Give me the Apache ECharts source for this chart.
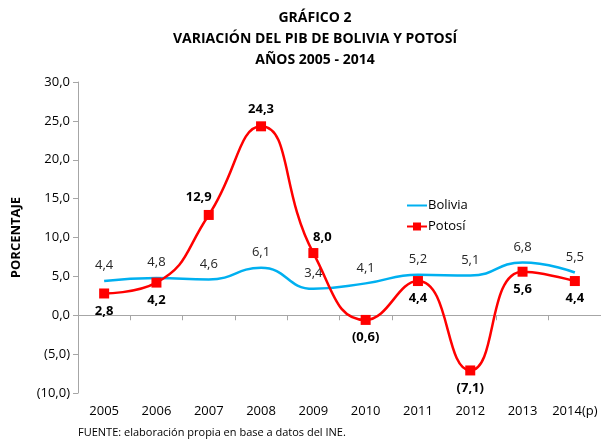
<!DOCTYPE html>
<html>
<head>
<meta charset="utf-8">
<script src="https://cdn.jsdelivr.net/npm/echarts@6/dist/echarts.min.js"></script>
<style>
body { margin: 0; background: #fff; }
#chart { width: 601px; height: 441px; }
</style>
</head>
<body>
<div id="chart"></div>
<script>
var years = ['2005', '2006', '2007', '2008', '2009', '2010', '2011', '2012', '2013', '2014(p)'];
var bolivia = [4.4, 4.8, 4.6, 6.1, 3.4, 4.1, 5.2, 5.1, 6.8, 5.5];
var potosi = [2.8, 4.2, 12.9, 24.3, 8.0, -0.6, 4.4, -7.1, 5.6, 4.4];
var yTicks = { min: -10, max: 30, step: 5 };

// where each Potosí label sits
var potosiLabelPos = ['bottom', 'bottom', 'topLeft', 'top', 'topRight', 'bottom', 'bottom', 'bottom', 'bottom', 'bottom'];

var fontFam = '"Open Sans", "DejaVu Sans", sans-serif';

function fmt(v) {
    var s = Math.abs(v).toFixed(1).replace('.', ',');
    return v < 0 ? '(' + s + ')' : s;
}

var potosiData = potosi.map(function (v, i) {
    var p = potosiLabelPos[i];
    var lab = { position: p === 'bottom' ? 'bottom' : 'top' };
    if (p === 'topLeft') lab.offset = [-10, 0];
    if (p === 'topRight') lab.offset = [9, 2];
    return { value: v, label: lab };
});

var myChart = echarts.init(document.getElementById('chart'));
var option = {
    animation: false,
    textStyle: { fontFamily: fontFam },
    title: {
        text: 'GRÁFICO 2\nVARIACIÓN DEL PIB DE BOLIVIA Y POTOSÍ\nAÑOS 2005 - 2014',
        left: 310,
        top: 3,
        textAlign: 'center',
        textStyle: {
            fontFamily: fontFam,
            fontSize: 14,
            fontWeight: 'bold',
            color: '#000',
            lineHeight: 21
        }
    },
    legend: {
        orient: 'vertical',
        left: 401,
        top: 194,
        itemGap: 8,
        itemWidth: 20,
        itemHeight: 10,
        textStyle: { fontSize: 13, color: '#000', padding: [0, 0, 0, -4] },
        data: [
            { name: 'Bolivia', itemStyle: { opacity: 0 } },
            { name: 'Potosí' }
        ]
    },
    grid: {
        left: 78,
        top: 82,
        width: 525,
        bottom: 48
    },
    xAxis: [
        {
            type: 'category',
            data: years,
            position: 'bottom',
            axisLine: { show: false, onZero: false },
            axisTick: { show: false },
            axisLabel: { interval: 0, fontSize: 13, color: '#000', margin: 12 }
        },
        {
            type: 'category',
            data: years,
            position: 'bottom',
            axisLine: { show: true, onZero: true, lineStyle: { color: '#A6A6A6', width: 1 } },
            axisTick: { show: true, interval: 0, length: 5, lineStyle: { color: '#A6A6A6' } },
            axisLabel: { show: false }
        }
    ],
    yAxis: {
        type: 'value',
        min: yTicks.min,
        max: yTicks.max,
        interval: yTicks.step,
        name: 'PORCENTAJE',
        nameLocation: 'middle',
        nameGap: 55,
        nameTextStyle: { fontSize: 13, fontWeight: 'bold', color: '#000' },
        axisLine: { show: true, lineStyle: { color: '#A6A6A6' } },
        axisTick: { show: true, length: 5, lineStyle: { color: '#A6A6A6' } },
        splitLine: { show: false },
        axisLabel: {
            fontSize: 13,
            color: '#000',
            margin: 8,
            formatter: function (v) { return fmt(v); }
        }
    },
    series: [
        {
            name: 'Bolivia',
            type: 'line',
            smooth: 0.5,
            symbol: 'circle',
            symbolSize: 0.1,
            showAllSymbol: true,
            data: bolivia,
            lineStyle: { color: '#00B0F0', width: 2.5 },
            itemStyle: { color: '#00B0F0' },
            label: {
                show: true,
                position: 'top',
                distance: 9,
                fontSize: 13,
                color: '#262626',
                formatter: function (p) { return fmt(p.value); }
            },
            z: 2
        },
        {
            name: 'Potosí',
            type: 'line',
            smooth: 0.5,
            symbol: 'rect',
            symbolSize: 10,
            showAllSymbol: true,
            data: potosiData,
            lineStyle: { color: '#FF0000', width: 2.5 },
            itemStyle: { color: '#FF0000' },
            label: {
                show: true,
                distance: 6,
                fontSize: 13,
                fontWeight: 'bold',
                color: '#000',
                formatter: function (p) { return fmt(p.value); }
            },
            z: 3
        }
    ],
    graphic: [
        {
            type: 'text',
            left: 78,
            top: 427,
            style: {
                text: 'FUENTE: elaboración propia en base a datos del INE.',
                fontSize: 11,
                fontFamily: fontFam,
                fill: '#000'
            }
        }
    ]
};
myChart.setOption(option);
</script>
</body>
</html>
